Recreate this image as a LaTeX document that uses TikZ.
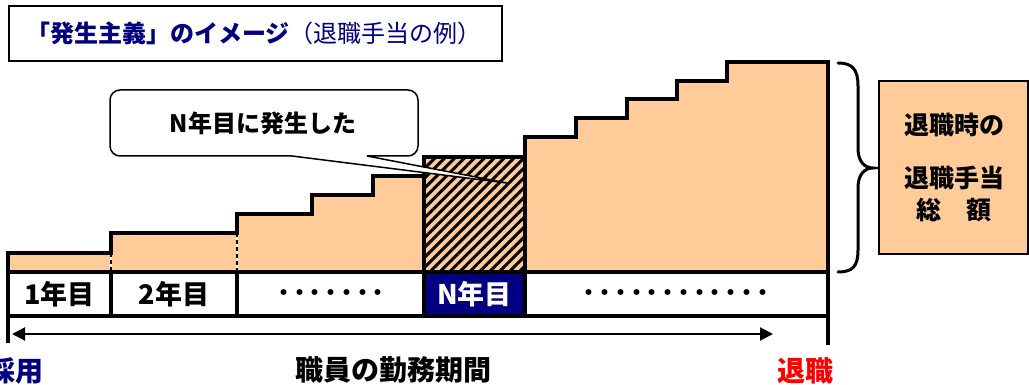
\documentclass[tikz,border=0pt]{standalone}
\usepackage{fontspec}
\newfontfamily\jp{Noto Sans CJK JP}
\usetikzlibrary{arrows.meta,patterns.meta}
\definecolor{peach}{RGB}{255,204,153}
\definecolor{navyc}{RGB}{0,0,128}
\definecolor{redc}{RGB}{255,0,0}
\begin{document}
\begin{tikzpicture}[x=1pt,y=-1pt,
  txt/.style={inner sep=0pt, font=\jp\bfseries\fontsize{24}{28}\selectfont},
  boxtxt/.style={inner sep=0pt, font=\jp\bfseries\fontsize{25}{28}\selectfont},
  yeartxt/.style={inner sep=0pt, font=\jp\bfseries\fontsize{27}{30}\selectfont},
  bigtxt/.style={inner sep=0pt, font=\jp\bfseries\fontsize{28}{30}\selectfont},
  dots/.style={inner sep=0pt, font=\jp\bfseries\fontsize{21}{24}\selectfont\addfontfeature{LetterSpace=-25}},
  stairline/.style={line width=3.2pt, line join=miter},
  thinbox/.style={line width=1.8pt}]
\useasboundingbox (0,0) rectangle (1029,385);

% title box
\draw[thinbox] (9,6) rectangle (502,61);
\node[inner sep=0pt, text=navyc, font=\jp\fontsize{24}{28}\selectfont] (title) at (254,33)
  {{\bfseries 「発生主義」のイメージ}（退職手当の例）};

% staircase fill
\path[fill=peach] (8,272) -- (8,253) -- (111,253) -- (111,233) -- (237,233) -- (237,214)
  -- (312,214) -- (312,195) -- (373,195) -- (373,176) -- (424,176) -- (424,157)
  -- (525,157) -- (525,137) -- (576,137) -- (576,118) -- (627,118) -- (627,99)
  -- (677,99) -- (677,81) -- (727,81) -- (727,62) -- (828,62) -- (828,272) -- cycle;
% hatched year
\path[pattern={Lines[angle=45,distance=7pt,line width=3pt]}, pattern color=black]
  (424,157) rectangle (525,272);
% dashed separators
\draw[white, line width=1.8pt] (111,253) -- (111,272) (237,233) -- (237,272);
\draw[black, line width=1.8pt, dash pattern=on 4pt off 3pt] (111,253) -- (111,272) (237,233) -- (237,272);
% staircase outline
\draw[stairline] (8,272) -- (8,253) -- (111,253) -- (111,233) -- (237,233) -- (237,214)
  -- (312,214) -- (312,195) -- (373,195) -- (373,176) -- (424,176) -- (424,157)
  -- (525,157) -- (525,137) -- (576,137) -- (576,118) -- (627,118) -- (627,99)
  -- (677,99) -- (677,81) -- (727,81) -- (727,62) -- (828,62) -- (828,272);
\draw[stairline] (424,157) rectangle (525,272);

% year row
\fill[navyc] (424,272) rectangle (525,316);
\draw[stairline] (8,272) -- (828,272) (8,316) -- (828,316);
\draw[stairline] (8,253) -- (8,343) (828,62) -- (828,345);
\draw[stairline] (111,272) -- (111,316) (237,272) -- (237,316) (424,272) -- (424,316) (525,272) -- (525,316);
\node[yeartxt] (y1) at (59.5,294) {1年目};
\node[yeartxt] (y2) at (174,294) {2年目};
\node[dots] (d1) at (331,295) {・・・・・・・};
\node[yeartxt, text=white] (yn) at (474.5,294) {N年目};
\node[dots] (d2) at (676,295) {・・・・・・・・・・・・};

% callout
\draw[line width=1.5pt, fill=white, rounded corners=10pt]
  (292,156) -- (110,156) -- (110,90) -- (418,90) -- (418,156) [sharp corners] -- (367,156)
  -- (507,183) -- (292,156) -- cycle;
\node[txt] (call) at (263,123) {N年目に発生した};

% brace
\draw[line width=3pt, line cap=round] (838,63) .. controls (853,63) and (858,70) .. (858,86)
  -- (858,148) .. controls (858,161) and (864,168) .. (873,168)
  .. controls (864,168) and (858,175) .. (858,188) -- (858,250)
  .. controls (858,266) and (853,272) .. (838,272);

% total box
\draw[thinbox, fill=peach] (879,81) rectangle (1028,254);
\node[boxtxt] (t1) at (954,125) {退職時の};
\node[boxtxt] (t2) at (954,178) {退職手当};
\node[boxtxt] (t3) at (954,210) {総　額};

% period arrow
\coordinate (aL) at (12,334);
\coordinate (aR) at (773,334);
\draw[line width=2pt, {Triangle[length=13pt,width=13pt]}-{Triangle[length=13pt,width=13pt]}] (aL) -- (aR);

% bottom labels
\node[bigtxt, text=navyc, anchor=east] (start) at (44,371) {採用};
\node[bigtxt] (period) at (393,370) {職員の勤務期間};
\node[bigtxt, text=redc] (end) at (805,371) {退職};
\end{tikzpicture}
\end{document}
